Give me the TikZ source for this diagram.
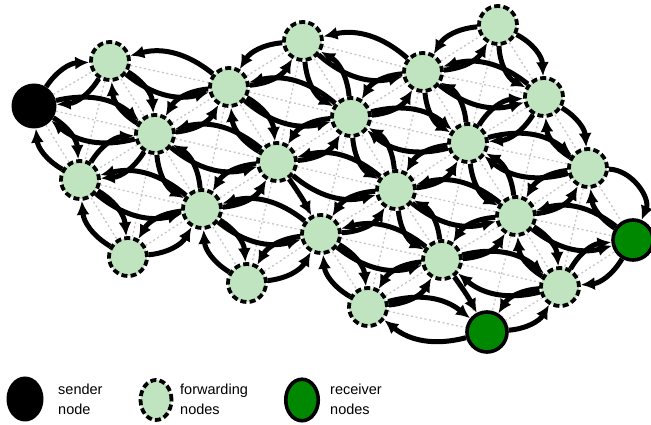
\documentclass[tikz,border=0pt]{standalone}
\usepackage{fontspec}
\setmainfont{Liberation Sans}
\usetikzlibrary{arrows.meta,backgrounds,shapes.geometric}
\definecolor{fwdgreen}{RGB}{192,228,192}
\definecolor{rcvgreen}{RGB}{0,136,0}
\begin{document}
\begin{tikzpicture}[x=1pt,y=1pt,
  fwd/.style={circle,draw=black,fill=fwdgreen,line width=3.8pt,
    dash pattern=on 6pt off 3.2pt,minimum size=38pt,inner sep=0pt},
  rcv/.style={circle,draw=black,fill=rcvgreen,line width=3.6pt,
    minimum size=40pt,inner sep=0pt},
  snd/.style={circle,fill=black,minimum size=45pt,inner sep=0pt},
  arr/.style={line width=5pt,-{Latex[length=14pt,width=13pt]}},
  mesh/.style={draw=gray!45,line width=1.3pt,dash pattern=on 2pt off 2.6pt},
  bl/.style={bend left=27},
  br/.style={bend right=27},
  legtext/.style={anchor=west,align=left,inner sep=0pt,
    font=\fontsize{14.5}{20}\selectfont}
]
\useasboundingbox (0,0) rectangle (651,425);

% sender
\node[snd] (S) at (34,319) {};
% forwarding nodes
\node[fwd] (A) at (110,364) {};
\node[fwd] (B) at (155,291) {};
\node[fwd] (C) at (80,245) {};
\node[fwd] (D) at (128,168) {};
\node[fwd] (E) at (202,216) {};
\node[fwd] (F) at (229,338) {};
\node[fwd] (G) at (277,263) {};
\node[fwd] (H) at (303,384) {};
\node[fwd] (I) at (351,308) {};
\node[fwd] (J) at (247,142) {};
\node[fwd] (K) at (321,191) {};
\node[fwd] (L) at (368,118) {};
\node[fwd] (M) at (396,235) {};
\node[fwd] (N) at (423,353) {};
\node[fwd] (O) at (498,400) {};
\node[fwd] (P) at (544,328) {};
\node[fwd] (Q) at (468,282) {};
\node[fwd] (R) at (588,257) {};
\node[fwd] (T) at (516,209) {};
\node[fwd] (U) at (442,165) {};
\node[fwd] (V) at (560,138) {};
% receivers
\node[rcv] (W) at (633,185) {};
\node[rcv] (X) at (487,93) {};

% underlying links
\begin{pgfonlayer}{background}
\foreach \na/\nb in {S/A,S/B,S/C,A/B,A/F,B/C,B/F,B/G,B/E,C/E,C/D,D/E,E/G,E/K,
  E/J,F/G,F/I,F/H,G/I,G/M,H/I,H/N,I/N,I/Q,I/M,J/K,K/L,K/M,K/U,L/U,L/X,M/Q,
  M/T,M/U,N/O,N/P,N/Q,P/Q,P/R,Q/R,Q/T,R/T,T/U,T/V,T/W,U/V,V/W,V/X,R/W,
  G/K,U/X,O/P,A/C,B/D,F/E,H/G,G/J,I/K,N/M,M/L,O/Q,P/T,Q/U,T/X,R/V}
  \draw[mesh] (\na) -- (\nb);
\end{pgfonlayer}

% two-way links
\foreach \na/\nb/\bs in {S/A/bl,S/B/bl,S/C/bl,A/B/bl,A/F/br,B/C/bl,B/F/br,
  B/G/br,B/E/br,C/E/br,C/D/bl,D/E/br,E/G/br,E/K/br,E/J/bl,F/G/bl,F/I/br,
  F/H/br,G/I/br,G/M/br,H/I/br,H/N/br,I/N/br,I/Q/bl,I/M/br,J/K/br,K/L/bl,
  K/M/br,K/U/br,L/U/br,L/X/bl,M/Q/br,M/T/br,M/U/br,N/O/br,N/P/br,N/Q/br,
  P/Q/bl,P/R/bl,Q/R/bl,Q/T/br,R/T/br,T/U/br,T/V/bl,T/W/br,U/V/bl,V/W/bl,
  V/X/br}{
  \draw[arr,\bs] (\na) to (\nb);
  \draw[arr,\bs] (\nb) to (\na);
}
\draw[arr,bend left=55] (R) to (W);
\draw[arr,bend left=25] (W) to (R);
% one-way links
\draw[arr] (G) to[bend left=4] (K);
\draw[arr] (U) to[bend left=4] (X);
\draw[arr,bend left=30] (O) to (P);
\draw[arr,bend right=30] (O) to (P);

% legend
\node[snd,ellipse,minimum width=37pt,minimum height=45pt] (ls) at (25,26) {};
\node[fwd,ellipse,minimum width=31pt,minimum height=40pt] (lf) at (156,25) {};
\node[rcv,ellipse,minimum width=32.5pt,minimum height=41.5pt] (lr) at (302,25) {};
\node[legtext] (ts) at (58,26) {sender\\node};
\node[legtext] (tf) at (180,26) {forwarding\\nodes};
\node[legtext] (tr) at (330,26) {receiver\\nodes};
\end{tikzpicture}
\end{document}
